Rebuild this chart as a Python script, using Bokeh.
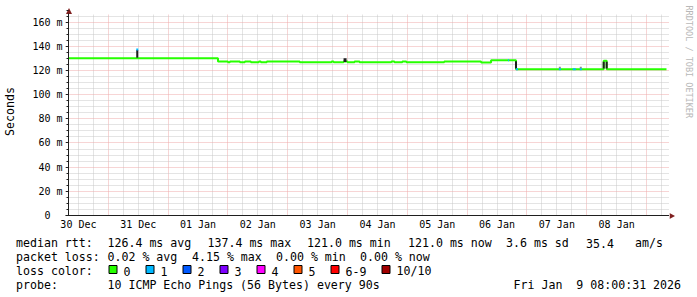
import math
from datetime import datetime, timedelta
from bokeh.plotting import figure
from bokeh.layouts import column, row
from bokeh.models import (FixedTicker, CustomJSTickFormatter, DatetimeTickFormatter, Range1d,
                          BoxAnnotation, LinearAxis)
from bokeh.core.properties import value
from bokeh.embed import file_html
from bokeh.resources import INLINE

# ------------------------------------------------------------------ data
END_STAMP = "2026-01-09 08:00:31"
SPAN_HOURS = 240

# median RTT (ms), step series: value holds from each time to the next
median_time = ["2025-12-30 08:00", "2026-01-01 20:00", "2026-01-02 00:00", "2026-01-02 00:48",
               "2026-01-02 04:48", "2026-01-02 06:48", "2026-01-02 09:12", "2026-01-02 12:24",
               "2026-01-02 13:12", "2026-01-02 15:36", "2026-01-03 04:48", "2026-01-03 17:36",
               "2026-01-03 18:24", "2026-01-03 22:24", "2026-01-04 00:00", "2026-01-04 02:48",
               "2026-01-04 04:48", "2026-01-04 17:36", "2026-01-04 18:48", "2026-01-04 22:00",
               "2026-01-04 23:36", "2026-01-05 14:48", "2026-01-06 05:36", "2026-01-06 09:36",
               "2026-01-06 19:36", "2026-01-08 06:48", "2026-01-08 08:00", "2026-01-09 08:00"]
median_ms = [130.0, 127.4, 126.8, 127.4,
             126.8, 127.4, 126.8, 127.4,
             126.8, 127.4, 126.8, 127.4,
             126.8, 127.4, 126.8, 127.4,
             126.8, 127.4, 126.8, 127.4,
             126.8, 127.4, 126.6, 128.5,
             121.0, 128.0, 121.0, 121.0]

# dense smoke (spread of the pings)
dark_smoke_start = ["2025-12-31 11:12", "2026-01-03 22:24", "2026-01-06 19:12", "2026-01-08 06:24", "2026-01-08 07:36"]
dark_smoke_end = ["2025-12-31 12:00", "2026-01-03 23:36", "2026-01-06 20:00", "2026-01-08 07:12", "2026-01-08 08:24"]
dark_smoke_low = [130.6, 127.0, 121.6, 121.6, 121.6]
dark_smoke_high = [137.0, 130.0, 127.7, 127.3, 127.3]

light_smoke_start = ["2026-01-07 12:48", "2026-01-07 21:12"]
light_smoke_end = ["2026-01-07 13:36", "2026-01-07 22:00"]
light_smoke_low = [121.6, 121.6]
light_smoke_high = [123.0, 123.0]

# intervals with packet loss (median drawn in the loss colour)
loss_start = ["2025-12-31 11:12", "2026-01-06 16:24", "2026-01-06 19:36", "2026-01-07 12:48",
              "2026-01-07 18:24", "2026-01-07 21:12"]
loss_end = ["2025-12-31 12:00", "2026-01-06 16:48", "2026-01-06 20:24", "2026-01-07 13:36",
            "2026-01-07 19:36", "2026-01-07 22:00"]
loss_ms = [137.4, 128.5, 121.0, 121.0, 121.0, 121.0]
loss_count = [1, 1, 1, 1, 1, 1]

y_major = [0, 20, 40, 60, 80, 100, 120, 140, 160]
y_minor_step = 5

loss_labels = ["0", "1", "2", "3", "4", "5", "6-9", "10/10"]
loss_colors = ["#26ff00", "#00b8ff", "#0059ff", "#7e00ff", "#ff00ff", "#ff5500", "#ff0000", "#a10000"]

median_caption = "median rtt:"
median_stats = ["126.4 ms avg", "137.4 ms max", "121.0 ms min", "121.0 ms now", "3.6 ms sd", "35.4", "am/s"]
loss_caption = "packet loss:"
loss_stats = ["0.02 % avg", "4.15 % max", "0.00 % min", "0.00 % now"]
color_caption = "loss color:"
probe_caption = "probe:"
probe_text = "10 ICMP Echo Pings (56 Bytes) every 90s"
stamp_text = "Fri Jan \u00a09 08:00:31 2026"
y_title = "Seconds"
watermark = "RRDTOOL / TOBI OETIKER"

# ------------------------------------------------------------------ layout
W, H = 697, 297
AXIS_X = 66            # canvas x of the y axis (start of data)
FRAME_L = 63           # frame starts a little left of the axis (room for the arrow head)
FRAME_R = 669
GRID_T = 14            # top of the grid area
FRAME_T = 7            # frame top (room for the arrow head)
FRAME_B = 215
MAIN_H = 233
PX_PER_HOUR = 2.5
PX_PER_MS = 1.2087
HOUR_MS = 3600_000.0
EPOCH = datetime(1970, 1, 1)
MONO = "DejaVu Sans Mono"
AXIS_COLOR = "#1f1f1f"
ARROW_COLOR = "#7f1f1f"
MAJOR_GRID = "#eeaaaa"
MINOR_GRID = "#c8c8c8"
TEXT_SIZE = "11.6px"


def ms(s):
    fmt = "%Y-%m-%d %H:%M:%S" if s.count(":") == 2 else "%Y-%m-%d %H:%M"
    return (datetime.strptime(s, fmt) - EPOCH).total_seconds() * 1000.0


def pixel_fig(w, h):
    """A blank figure whose data units are its own pixels (y downward)."""
    f = figure(width=w, height=h, x_range=Range1d(0, w), y_range=Range1d(h, 0),
               output_backend="svg", toolbar_location=None, title=None,
               x_axis_location=None, y_axis_location=None,
               min_border_left=0, min_border_right=0, min_border_top=0, min_border_bottom=0)
    f.grid.visible = False
    f.outline_line_color = None
    f.background_fill_color = "white"
    f.border_fill_color = "white"
    return f


t_end = ms(END_STAMP)
t0 = t_end - SPAN_HOURS * HOUR_MS
x_lo = t0 - (AXIS_X - FRAME_L) / PX_PER_HOUR * HOUR_MS
x_hi = t0 + (FRAME_R - AXIS_X) / PX_PER_HOUR * HOUR_MS
y_hi = (FRAME_B - FRAME_T) / PX_PER_MS
y_grid_top = (FRAME_B - GRID_T) / PX_PER_MS


def xd(px):
    return t0 + (px - AXIS_X) / PX_PER_HOUR * HOUR_MS


def yd(py):
    return (FRAME_B - py) / PX_PER_MS


# ------------------------------------------------------------------ main plot
p = figure(width=FRAME_R, height=MAIN_H, x_axis_type="datetime", output_backend="svg",
           toolbar_location=None, title=None,
           x_range=Range1d(x_lo, x_hi), y_range=Range1d(0, y_hi),
           min_border_left=FRAME_L, min_border_right=0,
           min_border_top=FRAME_T, min_border_bottom=MAIN_H - FRAME_B)
p.outline_line_color = None
p.background_fill_color = "white"
p.border_fill_color = "white"

day0 = datetime.strptime(END_STAMP, "%Y-%m-%d %H:%M:%S") - timedelta(hours=SPAN_HOURS)
d = datetime(day0.year, day0.month, day0.day)
noon_ticks, midnight_ticks, six_h_ticks = [], [], []
while (d - EPOCH).total_seconds() * 1000 <= x_hi:
    for hh in range(0, 24, 6):
        t = (d + timedelta(hours=hh) - EPOCH).total_seconds() * 1000
        if t < t0 or t > x_hi:
            continue
        (midnight_ticks if hh == 0 else six_h_ticks).append(t)
        if hh == 12:
            noon_ticks.append(t)
    d += timedelta(days=1)

y_minor = [v for v in range(y_minor_step, int(y_hi) + 1, y_minor_step) if v % 20 != 0]
y_ticker = FixedTicker(ticks=y_major, minor_ticks=y_minor)

xaxis = p.xaxis[0]
xaxis.ticker = FixedTicker(ticks=noon_ticks, minor_ticks=[])
fmt = "%d %b"
xaxis.formatter = DatetimeTickFormatter(
    microseconds=fmt, milliseconds=fmt, seconds=fmt, minsec=fmt, minutes=fmt,
    hourmin=fmt, hours=fmt, days=fmt, months=fmt, years=fmt)
xaxis.axis_line_color = AXIS_COLOR
xaxis.major_label_text_font = MONO
xaxis.major_label_text_font_size = "10px"
xaxis.major_label_text_color = "black"
xaxis.major_tick_out = 0
xaxis.major_tick_in = 0
xaxis.minor_tick_out = 0
xaxis.minor_tick_in = 0
xaxis.major_label_standoff = 3

# y axis 1: labels and title (sits at the frame edge, line hidden)
yaxis = p.yaxis[0]
yaxis.ticker = y_ticker
yaxis.formatter = CustomJSTickFormatter(
    code="return tick == 0 ? '0\\u00a0\\u00a0' : tick.toFixed(0) + ' m';")
yaxis.axis_line_color = None
yaxis.major_tick_line_color = None
yaxis.minor_tick_line_color = None
yaxis.major_tick_out = 0
yaxis.major_tick_in = 0
yaxis.minor_tick_out = 0
yaxis.minor_tick_in = 0
yaxis.major_label_standoff = 3
yaxis.major_label_text_font = MONO
yaxis.major_label_text_font_size = "10px"
yaxis.major_label_text_color = "black"
yaxis.axis_label = y_title
yaxis.axis_label_text_font = MONO
yaxis.axis_label_text_font_size = TEXT_SIZE
yaxis.axis_label_text_font_style = "normal"
yaxis.axis_label_text_color = "black"
yaxis.axis_label_standoff = 12

# y axis 2: the visible axis line with its ticks, at the start of the data
yline = LinearAxis(ticker=y_ticker, formatter=CustomJSTickFormatter(code="return '';"),
                   fixed_location=t0, bounds=(0, yd(12.5)),
                   axis_line_color=AXIS_COLOR, major_tick_line_color=AXIS_COLOR,
                   minor_tick_line_color=AXIS_COLOR, major_tick_out=3, major_tick_in=0,
                   minor_tick_out=2, minor_tick_in=0, major_label_standoff=0,
                   major_label_text_font_size="1px")
p.add_layout(yline, "left")

p.xgrid.ticker = FixedTicker(ticks=midnight_ticks, minor_ticks=six_h_ticks)
p.ygrid.ticker = y_ticker
for g in (p.xgrid[0], p.ygrid[0]):
    g.grid_line_color = MAJOR_GRID
    g.grid_line_dash = "1 1"
    g.grid_line_width = 1
    g.minor_grid_line_color = MINOR_GRID
    g.minor_grid_line_dash = "1 1"
    g.minor_grid_line_width = 1

# keep the grid inside the graph area (not left of the axis, not above the top)
p.add_layout(BoxAnnotation(right=t0, fill_color="white", fill_alpha=1, line_color=None,
                           level="underlay"))
p.add_layout(BoxAnnotation(bottom=y_grid_top, fill_color="white", fill_alpha=1, line_color=None,
                           level="underlay"))

mx = [ms(s) for s in median_time]
p.step(x=mx, y=median_ms, mode="after", line_width=2, line_color=loss_colors[0])
p.quad(left=[ms(s) for s in light_smoke_start], right=[ms(s) for s in light_smoke_end],
       bottom=light_smoke_low, top=light_smoke_high, fill_color="#8c8c8c", line_color=None)
p.quad(left=[ms(s) for s in dark_smoke_start], right=[ms(s) for s in dark_smoke_end],
       bottom=dark_smoke_low, top=dark_smoke_high, fill_color="#1e1e1e", line_color=None)
p.segment(x0=[ms(s) for s in loss_start], x1=[ms(s) for s in loss_end],
          y0=loss_ms, y1=loss_ms, line_width=2,
          line_color=[loss_colors[c] for c in loss_count])

# arrow head at the top of the y axis
p.patch(x=[xd(AXIS_X - 2.5), xd(AXIS_X + 3.5), xd(AXIS_X + 0.5)],
        y=[yd(GRID_T - 0.5), yd(GRID_T - 0.5), yd(FRAME_T + 0.5)],
        fill_color=ARROW_COLOR, line_color=None)

# ------------------------------------------------------------------ right strip (x arrow + watermark)
side = pixel_fig(W - FRAME_R, MAIN_H)
ax_y = FRAME_B + 0.5
side.patch(x=[0, 0, 5.5], y=[ax_y - 3, ax_y + 3, ax_y], fill_color=ARROW_COLOR, line_color=None)
side.text(x=[688.5 - FRAME_R], y=[5], text=[watermark], angle=-math.pi / 2,
          text_font=value(MONO), text_font_size="8.5px", text_color="#b8b8b8",
          text_align="left", text_baseline="middle")

# ------------------------------------------------------------------ legend block
leg = pixel_fig(W, H - MAIN_H)
ROW_Y = [242.5 - MAIN_H, 256.5 - MAIN_H, 270.5 - MAIN_H, 284.5 - MAIN_H]
SWATCH_TOP, SWATCH_BOTTOM = 265 - MAIN_H, 273 - MAIN_H
tx, ty, tt = [], [], []


def put(x, y, s):
    tx.append(x)
    ty.append(y)
    tt.append(s)


put(15.5, ROW_Y[0], median_caption)
for s, x in zip(median_stats, [107, 207, 306.5, 407.5, 505.5, 585.5, 634.5]):
    put(x, ROW_Y[0], s)
put(15.5, ROW_Y[1], loss_caption)
for s, x in zip(loss_stats, [107, 191.5, 275.5, 359.5]):
    put(x, ROW_Y[1], s)
put(15.5, ROW_Y[2], color_caption)
sw_x = [108.5, 145.5, 182.5, 219.5, 256.5, 293.5, 330.5, 381.5]
for s, x in zip(loss_labels, sw_x):
    put(x + 14.5, ROW_Y[2], s)
put(15.5, ROW_Y[3], probe_caption)
put(107, ROW_Y[3], probe_text)
put(513, ROW_Y[3], stamp_text)

leg.quad(left=sw_x, right=[x + 8 for x in sw_x], top=[SWATCH_TOP] * len(sw_x),
         bottom=[SWATCH_BOTTOM] * len(sw_x), fill_color=loss_colors, line_color="black", line_width=1)
leg.text(x=tx, y=ty, text=tt, text_font=value(MONO), text_font_size=TEXT_SIZE,
         text_color="black", text_align="left", text_baseline="alphabetic")

layout = column(row(column(p, spacing=0), side, spacing=0), leg, spacing=0)
open("out.html", "w").write(file_html(layout, INLINE))
